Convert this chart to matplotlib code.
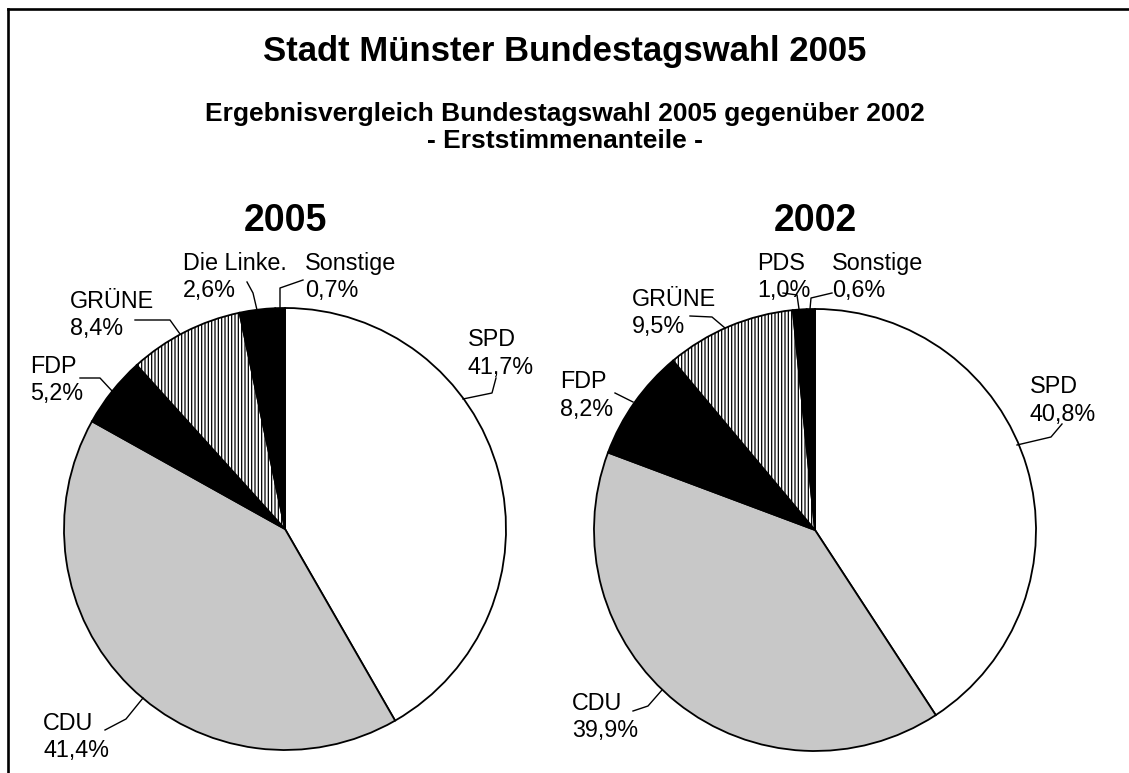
import matplotlib
matplotlib.use("Agg")
import matplotlib.pyplot as plt

plt.rcParams['font.family'] = ['Liberation Sans', 'DejaVu Sans']
plt.rcParams['hatch.linewidth'] = 0.9
plt.rcParams['hatch.color'] = '#8a8a8a'

W, H = 1129, 773

# ==== Daten ====
parteien_2005 = ['SPD', 'CDU', 'FDP', 'GRÜNE', 'Die Linke.', 'Sonstige']
werte_2005 = [41.7, 41.4, 5.2, 8.4, 2.6, 0.7]
parteien_2002 = ['SPD', 'CDU', 'FDP', 'GRÜNE', 'PDS', 'Sonstige']
werte_2002 = [40.8, 39.9, 8.2, 9.5, 1.0, 0.6]

farben = ['white', '#c8c8c8', 'black', 'white', 'black', 'black']
muster = [None, None, None, '|||||', None, None]

# Beschriftungen (Pixel-Koordinaten: x links, Grundlinie 1. und 2. Zeile)
label_pos_2005 = [(468, 346, 374), (43, 730, 757), (30, 373, 400),
                  (70, 308, 335), (183, 270, 297), (305, 270, 297)]
label_pos_2002 = [(1030, 393, 421), (572, 710, 737), (560, 388, 416),
                  (632, 306, 333), (757, 270, 297), (832, 270, 297)]

# Führungslinien
leader_2005 = [[(496, 378), (492, 393), (463, 399)],
               [(105, 730), (126, 719), (143, 698)],
               [(80, 378), (100, 378), (113, 392)],
               [(135, 320), (170, 320), (180, 334)],
               [(247, 282), (253, 293), (257, 310)],
               [(303, 280), (280, 288), (280, 310)]]
leader_2002 = [[(1062, 424), (1051, 437), (1017, 445)],
               [(633, 711), (648, 706), (662, 690)],
               [(615, 393), (633, 402)],
               [(690, 316), (712, 317), (725, 328)],
               [(783, 293), (797, 295), (799, 309)],
               [(832, 293), (811, 298), (810, 309)]]


def py(y):
    return H - y


fig = plt.figure(figsize=(W / 100, H / 100), dpi=100)
ax = fig.add_axes([0, 0, 1, 1])

# Rahmen
ax.plot([8, W + 5], [py(9), py(9)], color='black', lw=1.9, solid_capstyle='projecting')
ax.plot([8, 8], [py(9), py(H + 5)], color='black', lw=1.9, solid_capstyle='projecting')

# Titel
ax.text(565, py(61), 'Stadt Münster Bundestagswahl 2005', ha='center', va='baseline',
        fontsize=25, fontweight='bold')
ax.text(565, py(121), 'Ergebnisvergleich Bundestagswahl 2005 gegenüber 2002', ha='center',
        va='baseline', fontsize=19, fontweight='bold')
ax.text(565, py(148), '- Erststimmenanteile -', ha='center', va='baseline',
        fontsize=19, fontweight='bold')


def draw_pie(werte, parteien, center, jahr, label_pos, leader):
    wedges, _ = ax.pie(werte, colors=farben, startangle=90, counterclock=False,
                       center=center, radius=221, frame=True,
                       wedgeprops=dict(edgecolor='black', linewidth=1.3))
    for w, h in zip(wedges, muster):
        if h:
            w.set_hatch(h)
    ax.text(center[0], py(231), jahr, ha='center', va='baseline', fontsize=27,
            fontweight='bold')
    for name, wert, (x, y1, y2), pts in zip(parteien, werte, label_pos, leader):
        ax.text(x, py(y1), name, ha='left', va='baseline', fontsize=16.8)
        ax.text(x, py(y2), f"{wert:.1f}%".replace('.', ','), ha='left',
                va='baseline', fontsize=16.8)
        ax.plot([p[0] for p in pts], [py(p[1]) for p in pts], color='black', lw=1.0)


draw_pie(werte_2005, parteien_2005, (285, py(529)), '2005', label_pos_2005, leader_2005)
draw_pie(werte_2002, parteien_2002, (815, py(530)), '2002', label_pos_2002, leader_2002)

ax.set_xlim(0, W)
ax.set_ylim(0, H)
ax.set_aspect('equal')
ax.axis('off')

fig.savefig('out.png', dpi=100)
